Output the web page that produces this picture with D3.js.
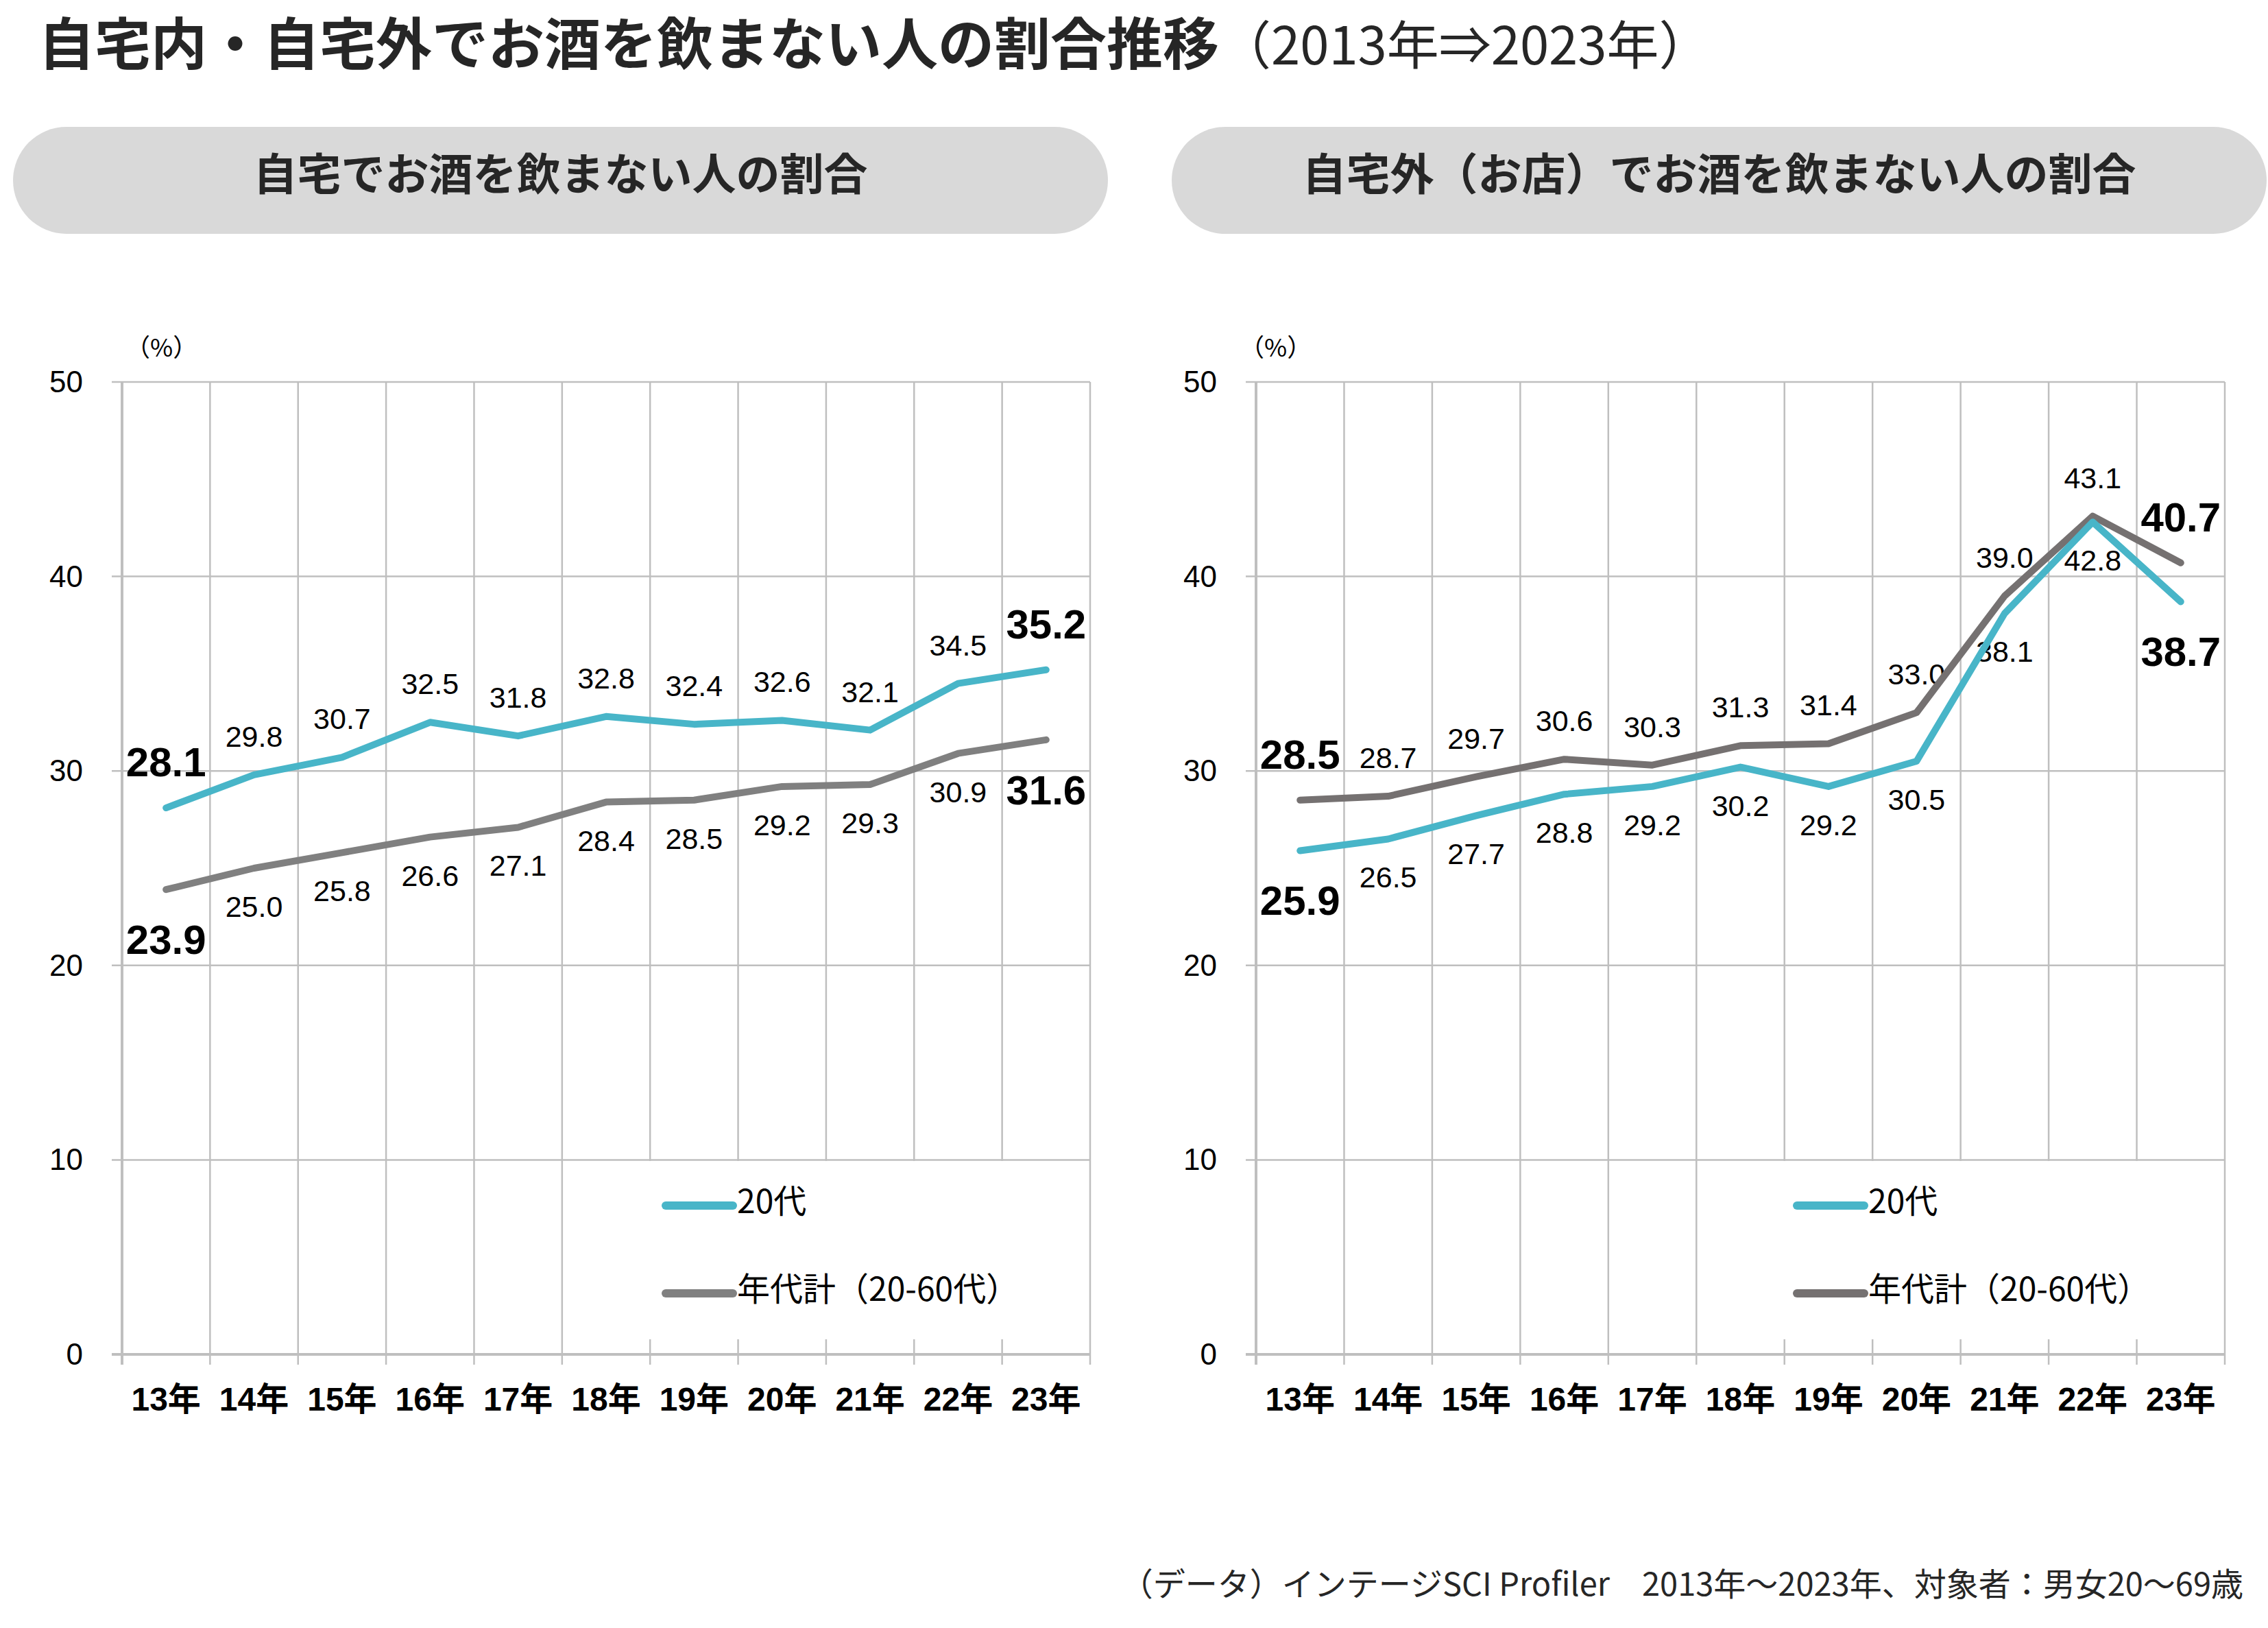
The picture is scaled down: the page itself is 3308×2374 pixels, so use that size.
<!DOCTYPE html>
<html>
<head>
<meta charset="utf-8">
<script src="https://cdn.jsdelivr.net/npm/d3@7"></script>
<style>
  body { margin: 0; background: #fff; }
  svg { display: block; }
</style>
</head>
<body>
<svg id="canvas"></svg>
<script>
let width = 3308
let height = 2374

// data
let years = ['13年', '14年', '15年', '16年', '17年', '18年', '19年', '20年', '21年', '22年', '23年']
let yTicks = [0, 10, 20, 30, 40, 50]
let seriesNames = ['20代', '年代計（20-60代）']
let panelTitles = ['自宅でお酒を飲まない人の割合', '自宅外（お店）でお酒を飲まない人の割合']

let homeTwenties = [28.1, 29.8, 30.7, 32.5, 31.8, 32.8, 32.4, 32.6, 32.1, 34.5, 35.2]
let homeAll = [23.9, 25.0, 25.8, 26.6, 27.1, 28.4, 28.5, 29.2, 29.3, 30.9, 31.6]
let outTwenties = [25.9, 26.5, 27.7, 28.8, 29.2, 30.2, 29.2, 30.5, 38.1, 42.8, 38.7]
let outAll = [28.5, 28.7, 29.7, 30.6, 30.3, 31.3, 31.4, 33.0, 39.0, 43.1, 40.7]

let cyan = '#48b5c8'
let gridColor = '#bfbfbf'
let jpFont = '"Noto Sans CJK JP", sans-serif'
let numFont = '"Liberation Sans", Arial, sans-serif'

let svg = d3.select('#canvas')
    .attr('width', width)
    .attr('height', height)

svg.append('rect')
    .attr('width', width)
    .attr('height', height)
    .attr('fill', '#fff')

// main title
let title = svg.append('text')
    .attr('x', 56)
    .attr('y', 94)
    .attr('font-family', jpFont)
    .attr('fill', '#262626')

title.append('tspan')
    .attr('font-size', 82)
    .attr('font-weight', 'bold')
    .text('自宅内・自宅外でお酒を飲まない人の割合推移')

title.append('tspan')
    .attr('font-size', 76)
    .text('（2013年⇒2023年）')

let panels = [
    {
        title: panelTitles[0], pill: [19, 1616],
        x0: 178, x1: 1590,
        twenties: homeTwenties, all: homeAll,
        twentiesPos: 'above', allPos: 'below',
        grey: '#808080', legendBox: [935, 1585], legendX: 971,
        pctX: 183
    },
    {
        title: panelTitles[1], pill: [1709, 3306],
        x0: 1832, x1: 3245,
        twenties: outTwenties, all: outAll,
        twentiesPos: 'below', allPos: 'above',
        grey: '#757171', legendBox: [2548, 3215], legendX: 2621,
        pctX: 1808
    }
]

let yScale = d3.scaleLinear()
    .domain([0, 50])
    .range([1975, 557])

let drawPanel = (p) => {
    let g = svg.append('g')

    // header pill
    g.append('rect')
        .attr('x', p.pill[0])
        .attr('y', 185)
        .attr('width', p.pill[1] - p.pill[0])
        .attr('height', 156)
        .attr('rx', 78)
        .attr('fill', '#d9d9d9')

    g.append('text')
        .attr('x', (p.pill[0] + p.pill[1]) / 2)
        .attr('y', 277)
        .attr('text-anchor', 'middle')
        .attr('font-family', jpFont)
        .attr('font-weight', 'bold')
        .attr('font-size', 64)
        .attr('fill', '#262626')
        .text(p.title)

    let xScale = d3.scaleBand()
        .domain(years)
        .range([p.x0, p.x1])

    let cx = (i) => xScale(years[i]) + xScale.bandwidth() / 2
    let bounds = years.map((d) => xScale(d)).concat([p.x1])

    // grid
    g.selectAll('.hgrid')
        .data(yTicks.filter((d) => d > 0))
        .enter()
        .append('line')
        .attr('x1', p.x0 - 15)
        .attr('x2', p.x1)
        .attr('y1', (d) => yScale(d))
        .attr('y2', (d) => yScale(d))
        .attr('stroke', gridColor)
        .attr('stroke-width', 2.5)

    g.selectAll('.vgrid')
        .data(bounds)
        .enter()
        .append('line')
        .attr('x1', (d) => d)
        .attr('x2', (d) => d)
        .attr('y1', yScale(50))
        .attr('y2', yScale(0) + 15)
        .attr('stroke', gridColor)
        .attr('stroke-width', (d, i) => i === 0 ? 4 : 2.5)

    // legend box hides grid underneath
    g.append('rect')
        .attr('x', p.legendBox[0])
        .attr('y', 1693)
        .attr('width', p.legendBox[1] - p.legendBox[0])
        .attr('height', 260)
        .attr('fill', '#fff')

    // x axis line
    g.append('line')
        .attr('x1', p.x0 - 15)
        .attr('x2', p.x1)
        .attr('y1', yScale(0))
        .attr('y2', yScale(0))
        .attr('stroke', gridColor)
        .attr('stroke-width', 4)

    // y tick labels
    g.selectAll('.ytick')
        .data(yTicks)
        .enter()
        .append('text')
        .attr('x', p.x0 - 57)
        .attr('y', (d) => yScale(d) + 15)
        .attr('text-anchor', 'end')
        .attr('font-family', numFont)
        .attr('font-size', 44)
        .attr('fill', '#000')
        .text((d) => d)

    g.append('text')
        .attr('x', p.pctX)
        .attr('y', 520)
        .attr('font-family', jpFont)
        .attr('font-size', 36)
        .attr('fill', '#000')
        .text('（%）')

    // x labels
    g.selectAll('.xtick')
        .data(years)
        .enter()
        .append('text')
        .attr('x', (d) => xScale(d) + xScale.bandwidth() / 2)
        .attr('y', 2057)
        .attr('text-anchor', 'middle')
        .attr('font-family', numFont + ', ' + jpFont)
        .attr('font-weight', 'bold')
        .attr('font-size', 48)
        .attr('fill', '#000')
        .text((d) => d)

    // data labels
    let drawLabels = (values, pos) => {
        g.selectAll(null)
            .data(values)
            .enter()
            .append('text')
            .attr('x', (d, i) => cx(i))
            .attr('y', (d, i) => {
                let bold = i === 0 || i === values.length - 1
                let y = yScale(d)
                if (pos === 'above') return y - (bold ? 46 : 41)
                return y + (bold ? 94 : 71)
            })
            .attr('text-anchor', 'middle')
            .attr('font-family', numFont)
            .attr('font-weight', (d, i) => (i === 0 || i === values.length - 1) ? 'bold' : 'normal')
            .attr('font-size', (d, i) => (i === 0 || i === values.length - 1) ? 60 : 43)
            .attr('fill', '#000')
            .text((d) => d.toFixed(1))
    }
    drawLabels(p.twenties, p.twentiesPos)
    drawLabels(p.all, p.allPos)

    // lines
    let line = d3.line()
        .x((d, i) => cx(i))
        .y((d) => yScale(d))

    g.append('path')
        .datum(p.all)
        .attr('d', line)
        .attr('fill', 'none')
        .attr('stroke', p.grey)
        .attr('stroke-width', 10)
        .attr('stroke-linejoin', 'round')
        .attr('stroke-linecap', 'round')

    g.append('path')
        .datum(p.twenties)
        .attr('d', line)
        .attr('fill', 'none')
        .attr('stroke', cyan)
        .attr('stroke-width', 10)
        .attr('stroke-linejoin', 'round')
        .attr('stroke-linecap', 'round')

    // legend
    let legendItems = [
        { name: seriesNames[0], color: cyan, y: 1758 },
        { name: seriesNames[1], color: p.grey, y: 1886 }
    ]
    legendItems.forEach((item) => {
        g.append('line')
            .attr('x1', p.legendX)
            .attr('x2', p.legendX + 98)
            .attr('y1', item.y)
            .attr('y2', item.y)
            .attr('stroke', item.color)
            .attr('stroke-width', 12)
            .attr('stroke-linecap', 'round')
        g.append('text')
            .attr('x', p.legendX + 104)
            .attr('y', item.y + 11)
            .attr('font-family', jpFont)
            .attr('font-size', 48)
            .attr('fill', '#000')
            .text(item.name)
    })
}

panels.forEach(drawPanel)

// footer
svg.append('text')
    .attr('x', 3272)
    .attr('y', 2327)
    .attr('text-anchor', 'end')
    .attr('font-family', jpFont)
    .attr('font-size', 47)
    .attr('fill', '#262626')
    .text('（データ）インテージSCI Profiler　2013年～2023年、対象者：男女20～69歳')
</script>
</body>
</html>
